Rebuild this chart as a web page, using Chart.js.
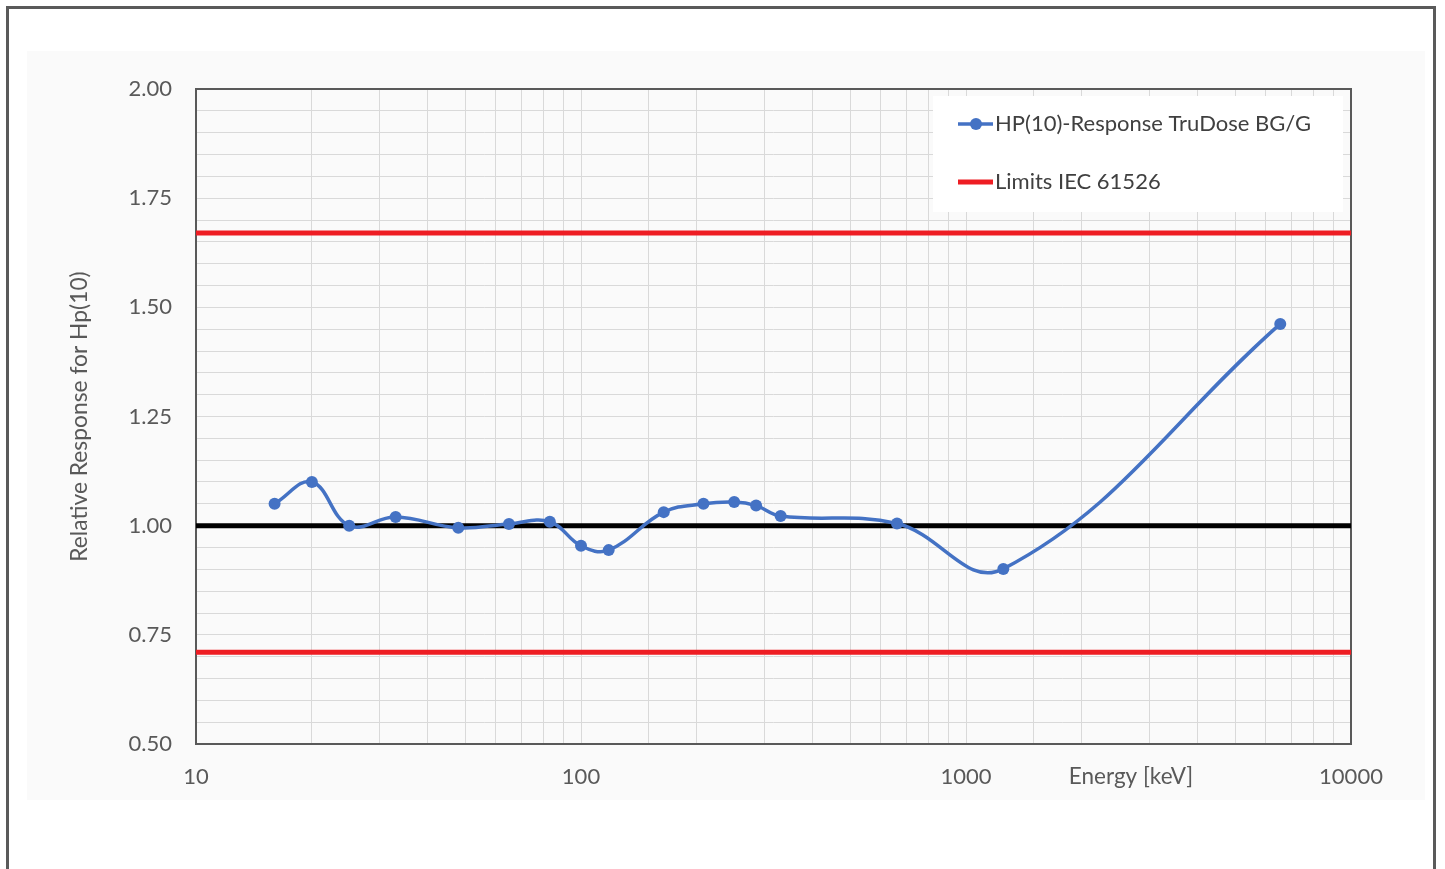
<!DOCTYPE html>
<html>
<head>
<meta charset="utf-8">
<script src="https://cdn.jsdelivr.net/npm/chart.js@4/dist/chart.umd.min.js"></script>
<style>
html,body{margin:0;padding:0;background:#fff;}
#wrap{width:1445px;height:869px;position:relative;}
</style>
</head>
<body>
<div id="wrap"><canvas id="c" width="1445" height="869"></canvas></div>
<script>
// ---- data ----
const energies = [16, 20, 25, 33, 48, 65, 83, 100, 118, 164, 208, 250, 285, 330, 662, 1250, 6550];
const response = [1.05, 1.10, 1.00, 1.02, 0.995, 1.004, 1.009, 0.954, 0.944, 1.031, 1.05, 1.054, 1.046, 1.022, 1.005, 0.901, 1.462];
const limitEnergies = [10, 10000];
const upperLimit = [1.67, 1.67];
const lowerLimit = [0.71, 0.71];
const referenceLine = [1.0, 1.0];
const xTickLabels = [10, 100, 1000, 10000];
const yTickLabels = [0.50, 0.75, 1.00, 1.25, 1.50, 1.75, 2.00];
const seriesLabel = 'HP(10)-Response TruDose BG/G';
const limitLabel = 'Limits IEC 61526';
const xTitle = 'Energy [keV]';
const yTitle = 'Relative Response for Hp(10)';

const FONT = 'Lato, "Noto Sans", sans-serif';
const TEXT = '#595959';
const BLUE = '#4472C4';
const RED = '#EE1D23';

const pts = (xs, ys) => xs.map((x, i) => ({x: x, y: ys[i]}));

const backdrop = {
  id: 'backdrop',
  beforeDraw(chart) {
    const c = chart.ctx;
    c.save();
    c.fillStyle = '#ffffff';
    c.fillRect(0, 0, chart.width, chart.height);
    c.fillStyle = '#fafafa';
    c.fillRect(27, 51, 1398, 749);
    c.strokeStyle = '#5a5a5a';
    c.lineWidth = 3;
    c.beginPath();
    c.moveTo(7.5, 869);
    c.lineTo(7.5, 7.5);
    c.lineTo(1434.5, 7.5);
    c.lineTo(1434.5, 869);
    c.stroke();
    c.restore();
  },
  beforeDatasetsDraw(chart) {
    const a = chart.chartArea, c = chart.ctx;
    c.save();
    c.strokeStyle = '#595959';
    c.lineWidth = 2;
    c.strokeRect(a.left, a.top, a.right - a.left, a.bottom - a.top);
    c.restore();
  },
  afterDraw(chart) {
    const c = chart.ctx;
    c.save();
    // x axis title placed in the tick-label row
    c.font = '22.5px ' + FONT;
    c.fillStyle = TEXT;
    c.textAlign = 'center';
    c.textBaseline = 'middle';
    c.fillText(xTitle, 1131, 777);
    // legend box
    c.fillStyle = '#ffffff';
    c.fillRect(933, 96, 410, 116);
    c.font = '22px ' + FONT;
    const items = chart.data.datasets.filter(d => d.inLegend);
    items.forEach((d, i) => {
      const y = 124 + i * 58;
      c.strokeStyle = d.borderColor;
      c.lineWidth = d.borderWidth;
      c.beginPath();
      c.moveTo(958, y);
      c.lineTo(993, y);
      c.stroke();
      if (d.pointRadius > 0) {
        c.fillStyle = d.borderColor;
        c.beginPath();
        c.arc(976, y, d.pointRadius, 0, Math.PI * 2);
        c.fill();
      }
      c.fillStyle = '#404040';
      c.textAlign = 'left';
      c.fillText(d.label, 995, y);
    });
    c.restore();
  }
};

Chart.defaults.font.family = FONT;

new Chart(document.getElementById('c'), {
  type: 'line',
  data: {
    datasets: [
      {label: seriesLabel, inLegend: true, data: pts(energies, response), borderColor: BLUE, backgroundColor: BLUE,
       borderWidth: 3.5, pointRadius: 6, pointBackgroundColor: BLUE, pointBorderWidth: 0, tension: 0.4, fill: false},
      {label: 'Reference', data: pts(limitEnergies, referenceLine), borderColor: '#000000', borderWidth: 5, pointRadius: 0, fill: false},
      {label: limitLabel, inLegend: true, data: pts(limitEnergies, upperLimit), borderColor: RED, borderWidth: 5, pointRadius: 0, fill: false},
      {label: limitLabel + ' low', data: pts(limitEnergies, lowerLimit), borderColor: RED, borderWidth: 5, pointRadius: 0, fill: false}
    ]
  },
  options: {
    responsive: false,
    animation: false,
    devicePixelRatio: 1,
    layout: {padding: {top: 89, right: 94, left: 0, bottom: 0}},
    plugins: {legend: {display: false}, tooltip: {enabled: false}},
    scales: {
      x: {
        type: 'logarithmic',
        min: 10, max: 10000,
        afterFit: s => { s.height = 125; },
        grid: {color: '#d9d9d9', lineWidth: 1, drawTicks: false},
        border: {display: false},
        ticks: {
          autoSkip: false, maxRotation: 0, padding: 20,
          color: TEXT, font: {size: 22, family: FONT},
          callback: v => xTickLabels.includes(v) ? String(v) : ''
        }
      },
      y: {
        type: 'linear',
        min: 0.5, max: 2.0,
        afterFit: s => { s.width = 196; },
        grid: {color: '#d9d9d9', lineWidth: 1, drawTicks: false},
        border: {display: false},
        title: {display: true, text: yTitle, color: TEXT, font: {size: 22.8, family: FONT}, padding: {top: 66, bottom: 0}},
        ticks: {
          stepSize: 0.05, autoSkip: false, maxTicksLimit: 100, padding: 24,
          color: TEXT, font: {size: 22, family: FONT},
          callback: v => yTickLabels.some(t => Math.abs(t - v) < 1e-6) ? v.toFixed(2) : ''
        }
      }
    }
  },
  plugins: [backdrop]
});
</script>
</body>
</html>
